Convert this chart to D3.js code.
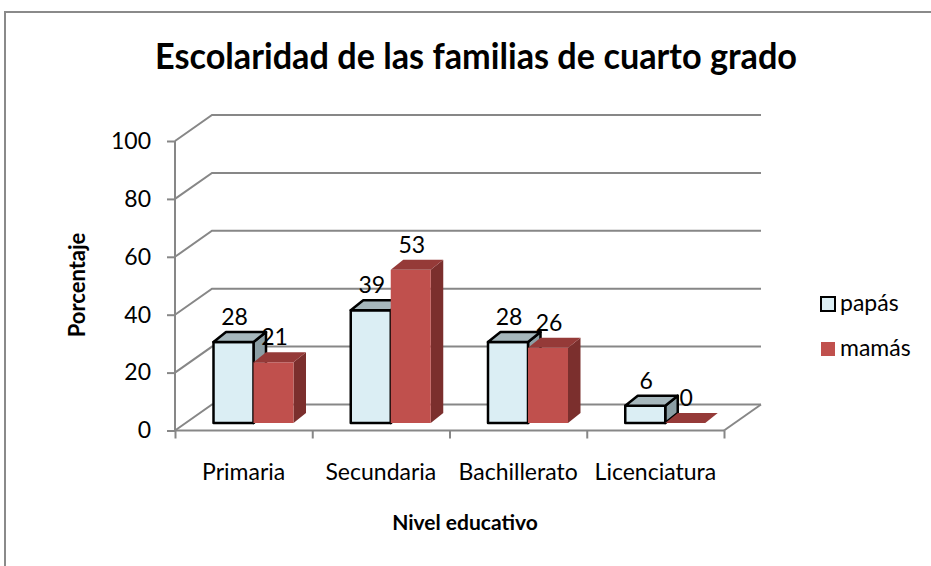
<!DOCTYPE html>
<html>
<head>
<meta charset="utf-8">
<script src="https://cdn.jsdelivr.net/npm/d3@7"></script>
<style>
  body { margin: 0; background: #fff; }
  svg text { font-family: Lato, "Open Sans", sans-serif; fill: #000; }
</style>
</head>
<body>
<div id="chart"></div>
<script>
// chart data
var categories = ["Primaria", "Secundaria", "Bachillerato", "Licenciatura"];
var series = ["papás", "mamás"];
var papas = [28, 39, 28, 6];
var mamas = [21, 53, 26, 0];
var yTicks = [0, 20, 40, 60, 80, 100];

(function() {
	var width = 931, height = 566;

	var svg = d3.select("#chart")
				.append("svg")
				.attr("width", width)
				.attr("height", height);

	// outer chart border
	svg.append("rect")
		.attr("x", 5).attr("y", 12)
		.attr("width", 1000).attr("height", 1000)
		.attr("fill", "none")
		.attr("stroke", "#8a8a8a")
		.attr("stroke-width", 2);

	// front plane of the 3D box
	var x = d3.scaleBand().domain(categories).range([175, 724]);
	var xEdge = d3.scaleLinear().domain([0, categories.length]).range([175, 724]);
	var y = d3.scaleLinear().domain([0, 100]).range([430.5, 141]);
	// bars sit a little behind the front plane
	var yBar = d3.scaleLinear().domain([0, 100]).range([423, 134]);
	var inner = d3.scaleBand().domain(series).range([38.5, 118.5]);

	var depthX = 37, depthY = -26;      // wall depth
	var barDX = 12.5, barDY = -10;      // bar depth
	var gridColor = "#878787";

	// back wall gridlines + left wall diagonals
	var grid = svg.append("g").attr("stroke", gridColor).attr("stroke-width", 2).attr("fill", "none");
	yTicks.forEach(function(t) {
		var yf = y(t), yb = y(t) + depthY;
		grid.append("path")
			.attr("d", "M" + xEdge(0) + "," + yf + "L" + (xEdge(0) + depthX) + "," + yb +
				"L" + (xEdge(4) + depthX) + "," + yb);
	});
	// floor right diagonal
	grid.append("path")
		.attr("d", "M" + xEdge(4) + "," + y(0) + "L" + (xEdge(4) + depthX) + "," + (y(0) + depthY));

	// y axis
	var yAxis = d3.axisLeft(y).tickValues(yTicks).tickSize(8).tickPadding(16);
	var gy = svg.append("g")
		.attr("transform", "translate(" + xEdge(0) + ",0)")
		.call(yAxis);
	gy.selectAll("path, line").attr("stroke", gridColor).attr("stroke-width", 2);
	gy.select(".domain").attr("d", "M0," + y(100) + "V" + y(0));
	gy.selectAll("text").style("font-size", "23px").attr("fill", "#000");

	// x axis (floor front edge, ticks at category edges)
	var xAxis = d3.axisBottom(xEdge).tickValues(d3.range(categories.length + 1)).tickSize(8).tickFormat("");
	var gx = svg.append("g")
		.attr("transform", "translate(0," + y(0) + ")")
		.call(xAxis);
	gx.selectAll("path, line").attr("stroke", gridColor).attr("stroke-width", 2);
	gx.select(".domain").attr("d", "M" + xEdge(0) + ",0H" + xEdge(4));

	svg.append("g").selectAll("text")
		.data(categories)
		.enter().append("text")
		.attr("x", function(d) { return x(d) + x.bandwidth() / 2; })
		.attr("y", 480)
		.attr("text-anchor", "middle")
		.style("font-size", "23px")
		.text(function(d) { return d; });

	// 3D bars
	var styles = {
		"papás": { front: "#dbeef4", top: "#a6b7bc", side: "#8b9ea4", stroke: "#000" },
		"mamás": { front: "#c0504d", top: "#953a38", side: "#7b2f2d", stroke: "none" }
	};
	var bars = [];
	categories.forEach(function(c, i) {
		bars.push({ cat: c, s: "papás", v: papas[i] });
		bars.push({ cat: c, s: "mamás", v: mamas[i] });
	});

	var gBars = svg.append("g");
	bars.forEach(function(d) {
		var st = styles[d.s];
		var x0 = x(d.cat) + inner(d.s), w = inner.bandwidth();
		var x1 = x0 + w;
		var yt = yBar(d.v), yb = yBar(0);
		var sw = d.s === "papás" ? 2.5 : 0;
		var g = gBars.append("g").attr("stroke", st.stroke).attr("stroke-width", sw).attr("stroke-linejoin", "round");
		if (d.v > 0) {
			g.append("path")
				.attr("fill", st.side)
				.attr("d", "M" + x1 + "," + yt + "L" + (x1 + barDX) + "," + (yt + barDY) +
					"L" + (x1 + barDX) + "," + (yb + barDY) + "L" + x1 + "," + yb + "Z");
			g.append("rect")
				.attr("fill", st.front)
				.attr("x", x0).attr("y", yt)
				.attr("width", w).attr("height", yb - yt);
		}
		g.append("path")
			.attr("fill", st.top)
			.attr("d", "M" + x0 + "," + yt + "L" + x1 + "," + yt + "L" + (x1 + barDX) + "," + (yt + barDY) +
				"L" + (x0 + barDX) + "," + (yt + barDY) + "Z");
	});

	// value labels
	svg.append("g").selectAll("text")
		.data(bars)
		.enter().append("text")
		.attr("x", function(d) { return x(d.cat) + inner(d.s) + inner.bandwidth() / 2 + 1; })
		.attr("y", function(d) { return yBar(d.v) - 17; })
		.attr("text-anchor", "middle")
		.style("font-size", "23px")
		.text(function(d) { return d.v; });

	// title
	svg.append("text")
		.attr("x", 476).attr("y", 69)
		.attr("text-anchor", "middle")
		.attr("textLength", 642)
		.attr("lengthAdjust", "spacingAndGlyphs")
		.style("font-size", "36px")
		.style("font-weight", "bold")
		.text("Escolaridad de las familias de cuarto grado");

	// axis titles
	svg.append("text")
		.attr("transform", "translate(85,285) rotate(-90)")
		.attr("text-anchor", "middle")
		.style("font-size", "22px")
		.style("font-weight", "bold")
		.text("Porcentaje");

	svg.append("text")
		.attr("x", 465).attr("y", 530)
		.attr("text-anchor", "middle")
		.style("font-size", "21px")
		.style("font-weight", "bold")
		.text("Nivel educativo");

	// legend
	var legend = svg.append("g").selectAll("g")
		.data(series)
		.enter().append("g")
		.attr("transform", function(d, i) { return "translate(821," + (297 + i * 45) + ")"; });
	legend.append("rect")
		.attr("width", 14).attr("height", 14)
		.attr("fill", function(d) { return styles[d].front; })
		.attr("stroke", function(d) { return d === "papás" ? "#000" : "none"; })
		.attr("stroke-width", 2);
	legend.append("text")
		.attr("x", 19).attr("y", 14)
		.style("font-size", "23px")
		.text(function(d) { return d; });
})();
</script>
</body>
</html>
